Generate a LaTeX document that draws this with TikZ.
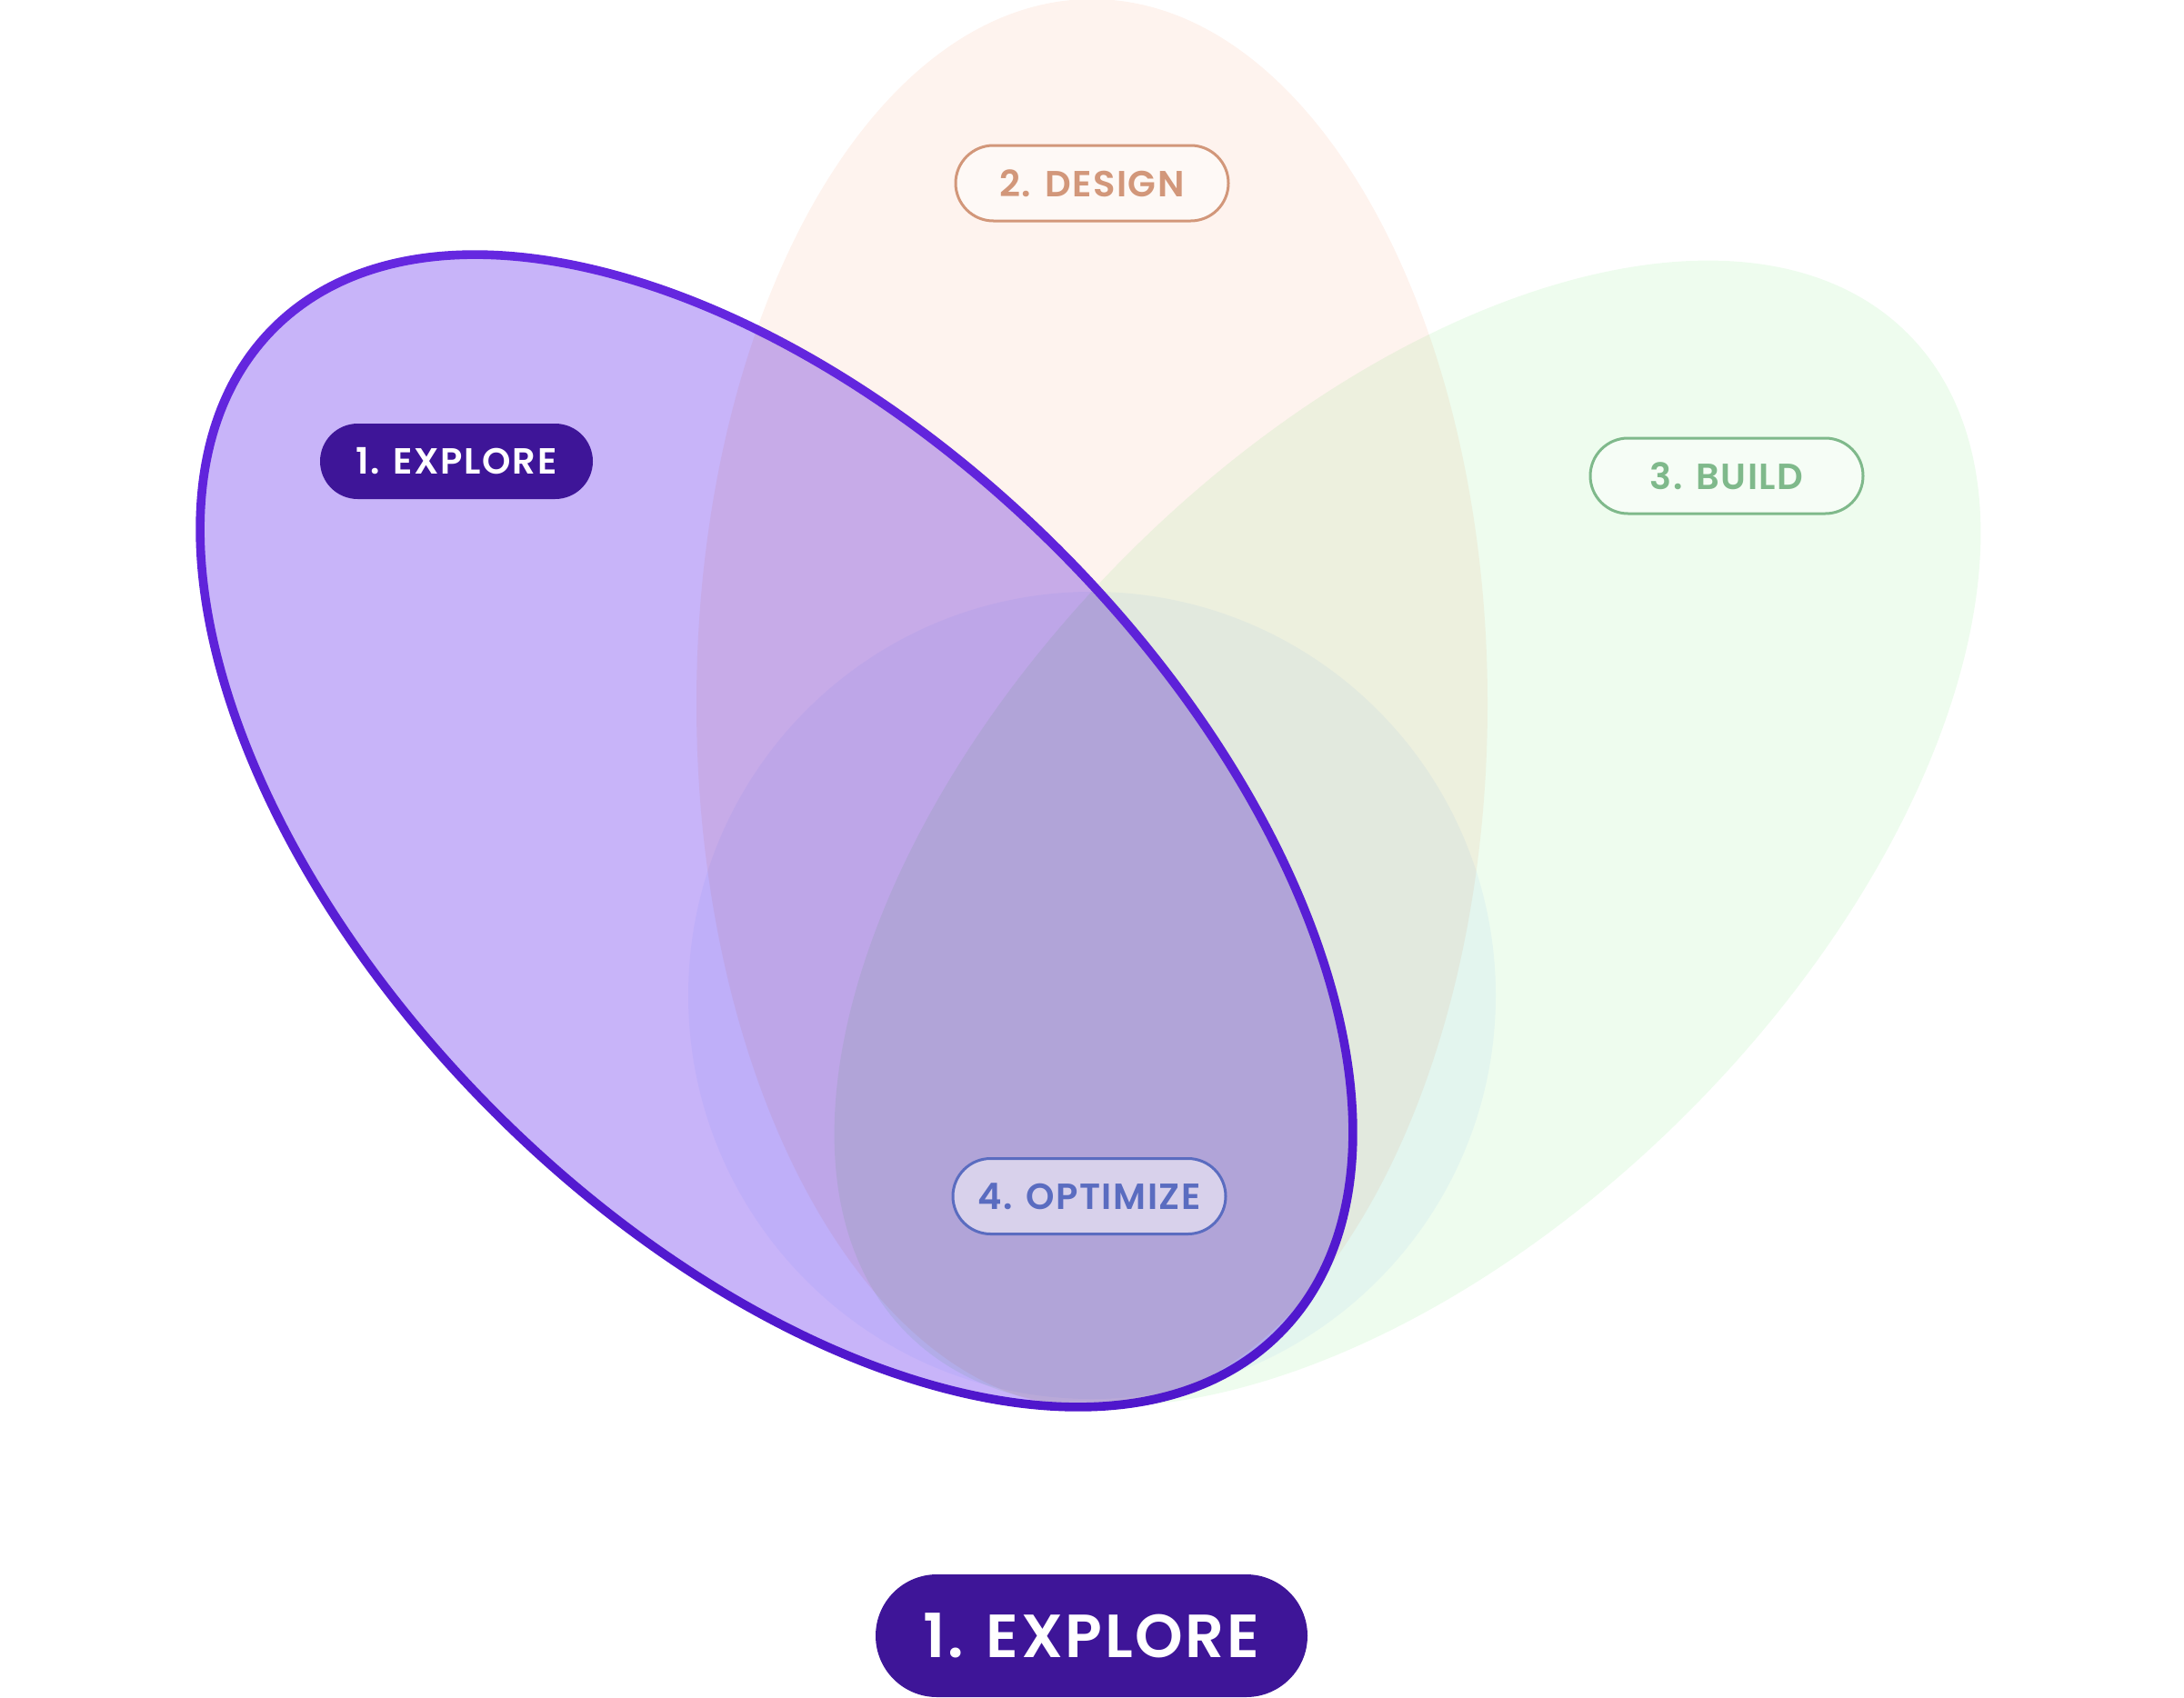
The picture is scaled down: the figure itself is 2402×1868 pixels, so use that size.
\documentclass[tikz,border=0pt]{standalone}
\usepackage{fontspec}
\IfFontExistsTF{Poppins SemiBold}{\newfontfamily\labfont{Poppins SemiBold}[LetterSpace=4]}{%
  \newfontfamily\labfont{Poppins}[LetterSpace=4]}
\definecolor{designfill}{HTML}{FEF3EE}
\definecolor{buildfill}{HTML}{EEFCEE}
\definecolor{optfill}{HTML}{F4F8FF}
\definecolor{explfill}{HTML}{C8B4F9}
\definecolor{designline}{HTML}{D2977A}
\definecolor{buildline}{HTML}{7FB98B}
\definecolor{optline}{HTML}{5A6CC0}
\definecolor{indigo}{HTML}{3E1598}
\definecolor{strokeA}{HTML}{6A2BE4}
\definecolor{strokeB}{HTML}{4A13C8}
\begin{document}
\begin{tikzpicture}[x=1pt,y=1pt,
  pill/.style={rounded corners=41.5pt, minimum width=300pt, minimum height=83pt,
    inner sep=0pt, line width=3pt, font=\labfont\fontsize{40}{43}\selectfont},
  ghost/.style={pill, fill=white, fill opacity=0.5, text opacity=1, draw opacity=1},
  petal/.style={blend mode=multiply}]
\useasboundingbox (0,0) rectangle (2402,-1868);
\coordinate (pdesign) at (1201,-774);
\coordinate (pexpl) at (854,-914);
\coordinate (pbuild) at (1548,-917);
\coordinate (popt) at (1201,-1095);
% petals
\fill[designfill, petal] (pdesign) ellipse [x radius=435pt, y radius=775pt];
\fill[buildfill, petal, rotate around={-45:(pbuild)}] (pbuild) ellipse [x radius=435pt, y radius=778pt];
\fill[optfill, petal] (popt) circle [radius=444pt];
\fill[explfill, petal, rotate around={45:(pexpl)}] (pexpl) ellipse [x radius=438pt, y radius=782pt];
% outline of the active petal
\begin{scope}[even odd rule, rotate around={45:(pexpl)}]
  \clip (pexpl) ellipse [x radius=443pt, y radius=787pt]
        (pexpl) ellipse [x radius=433pt, y radius=777pt];
  \shade[top color=strokeA, bottom color=strokeB]
    ([shift={(-455pt,-800pt)}]pexpl) rectangle ([shift={(455pt,800pt)}]pexpl);
\end{scope}
% labels
\node[pill, fill=indigo, text=white] (explore) at (502,-507.5) {1. EXPLORE};
\node[ghost, draw=designline, text=designline] (design) at (1201,-201.5) {2. DESIGN};
\node[ghost, draw=buildline, text=buildline] (build) at (1899,-523.5) {3. BUILD};
\node[ghost, draw=optline, text=optline] (optimize) at (1198,-1316) {4. OPTIMIZE};
\node[pill, fill=indigo, text=white, minimum width=475pt, minimum height=135pt,
  rounded corners=67.5pt, font=\labfont\fontsize{67}{70}\selectfont] (current) at (1200.5,-1799.5) {1. EXPLORE};
\end{tikzpicture}
\end{document}
